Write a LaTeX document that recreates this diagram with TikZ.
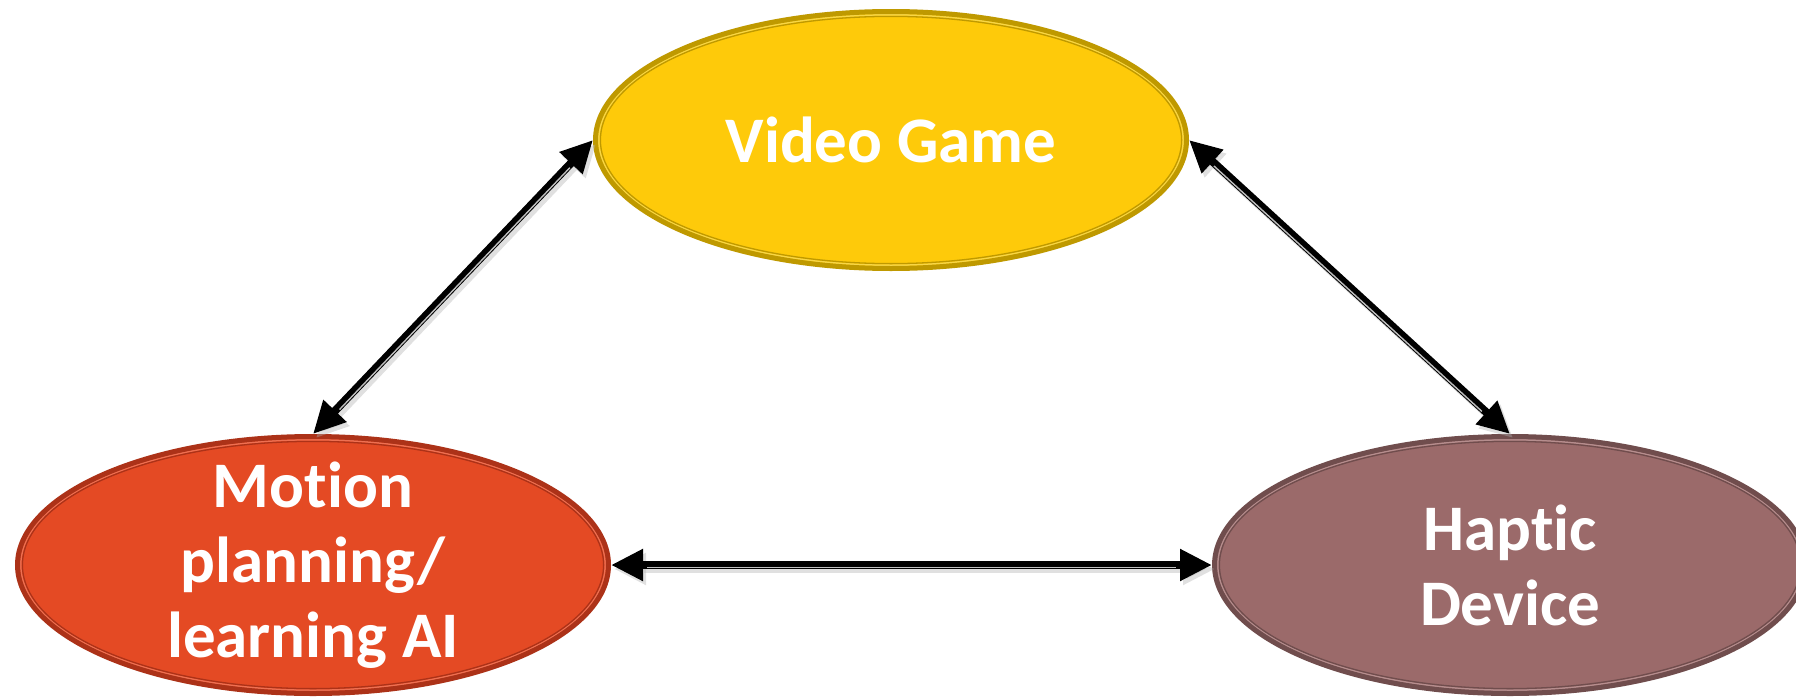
\documentclass[tikz,border=0pt]{standalone}
\usepackage{fontspec}
\setmainfont{Carlito}[Ligatures=NoCommon]
\usetikzlibrary{shapes.geometric,arrows.meta}
\definecolor{vgfill}{RGB}{254,202,10}
\definecolor{vgborder}{RGB}{191,153,0}
\definecolor{vglight}{RGB}{248,214,70}
\definecolor{mofill}{RGB}{228,74,36}
\definecolor{moborder}{RGB}{172,50,24}
\definecolor{molight}{RGB}{238,112,82}
\definecolor{hafill}{RGB}{155,106,106}
\definecolor{haborder}{RGB}{112,77,77}
\definecolor{halight}{RGB}{182,142,142}
\begin{document}
\begin{tikzpicture}[x=1pt,y=-1pt,
  blob/.style n args={3}{ellipse, inner sep=0pt, minimum width=591pt, minimum height=257pt,
    outer sep=2.5pt, line width=5pt, fill=#1, draw=#2,
    path picture={
      \draw[#3, line width=1.5pt] (path picture bounding box.center)
        ellipse [x radius=292.2pt, y radius=125.2pt];
      \draw[#2, line width=1.3pt] (path picture bounding box.center)
        ellipse [x radius=290.6pt, y radius=123.6pt];
    }},
  lbl/.style={text=white, font=\bfseries\fontsize{65}{75}\selectfont, align=center, inner sep=0pt},
  conn/.style={{Triangle[length=32pt,width=30pt]}-{Triangle[length=32pt,width=30pt]},
    line width=8pt, draw=black},
  connshadow/.style={conn, draw=black!30, opacity=0.4},
  stripe/.style={draw=gray!50, line width=1.4pt, shorten <=36pt, shorten >=36pt}
]
\useasboundingbox (0,0) rectangle (1796,696);
\node[blob={vgfill}{vgborder}{vglight}] (vg) at (891,140) {};
\node[blob={mofill}{moborder}{molight}] (mo) at (313,565) {};
\node[blob={hafill}{haborder}{halight}] (ha) at (1510,565) {};
\node[lbl] (vgt) at (vg.center) {Video Game};
\node[lbl] (mot) at (mo.center) {Motion\\planning/\\learning AI};
\node[lbl] (hat) at (ha.center) {Haptic\\Device};
% shadows
\draw[connshadow, transform canvas={shift={(3pt,-4pt)}}] (vg.west) -- (mo.north);
\draw[connshadow, transform canvas={shift={(3pt,-4pt)}}] (vg.east) -- (ha.north);
\draw[connshadow, transform canvas={shift={(3pt,-4pt)}}] (mo.east) -- (ha.west);
% connectors
\draw[conn] (vg.west) -- (mo.north);
\draw[conn] (vg.east) -- (ha.north);
\draw[conn] (mo.east) -- (ha.west);
% light stripes
\draw[stripe, transform canvas={shift={(1.7pt,-1.6pt)}}] (vg.west) -- (mo.north);
\draw[stripe, transform canvas={shift={(-1.6pt,-1.7pt)}}] (vg.east) -- (ha.north);
\draw[stripe, transform canvas={shift={(0pt,-2.3pt)}}] (mo.east) -- (ha.west);
\end{tikzpicture}
\end{document}
